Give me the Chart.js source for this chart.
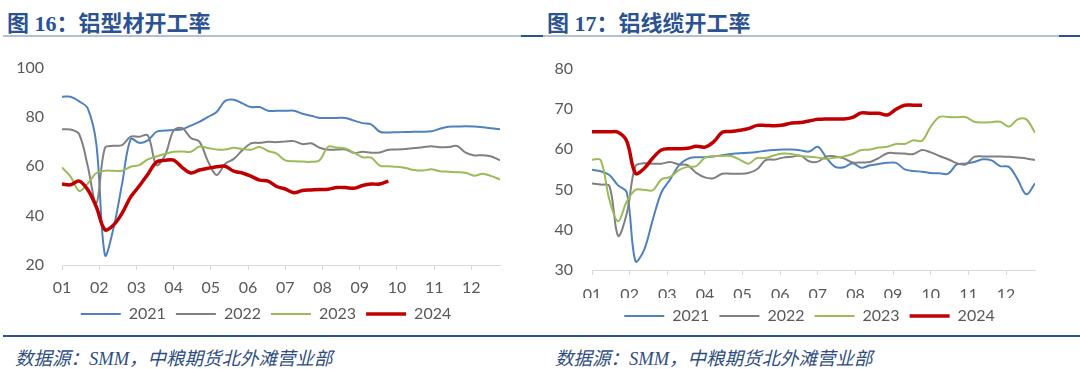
<!DOCTYPE html>
<html>
<head>
<meta charset="utf-8">
<script src="https://cdn.jsdelivr.net/npm/chart.js@4.4.1/dist/chart.umd.min.js"></script>
<style>
  body { margin: 0; width: 1080px; height: 369px; background: #fff; position: relative; overflow: hidden; }
  .title { position: absolute; top: 5px; line-height: 24px; font: bold 22px "Liberation Serif", "Noto Sans CJK SC"; color: #2b5291; white-space: nowrap; }
  .rule { position: absolute; height: 2px; }
  .light { background: #b4c0d0; }
  .dark { background: #2b5291; }
  .source { position: absolute; top: 344px; line-height: 20px; font: italic 18.5px "Liberation Serif", "Noto Sans CJK SC"; color: #2f4e80; white-space: nowrap; }
  .chartBox { position: absolute; top: 40px; }
</style>
</head>
<body>
<div class="title" style="left:7px">图 16：铝型材开工率</div>
<div class="title" style="left:547px">图 17：铝线缆开工率</div>
<div class="rule light" style="left:3px;width:518px;top:35px"></div>
<div class="rule dark" style="left:521px;width:22px;top:35px"></div>
<div class="rule light" style="left:543px;width:516px;top:35px"></div>
<div class="rule dark" style="left:1059px;width:21px;top:35px"></div>

<div class="chartBox" style="left:0px"><canvas id="profileChart" width="540" height="295"></canvas></div>
<div class="chartBox" style="left:540px"><canvas id="cableChart" width="540" height="297"></canvas></div>

<div class="rule dark" style="left:3px;width:1077px;top:335px"></div>
<div class="source" style="left:15px">数据源：SMM，中粮期货北外滩营业部</div>
<div class="source" style="left:555px">数据源：SMM，中粮期货北外滩营业部</div>

<script>
// Weekly operating rates (52 weeks per year)
var monthLabels = ['01', '02', '03', '04', '05', '06', '07', '08', '09', '10', '11', '12'];
var yearLabels = ['2021', '2022', '2023', '2024'];

// Aluminium profile operating rate (%)
var profile2021 = [88.2, 88.2, 86.3, 83.5, 69, 24, 35, 53, 71, 69.5, 70.5, 74, 74.5, 74.7, 75, 76.5, 78, 80, 82, 86.5, 87, 85.5, 84, 84, 82.5, 82.5, 82.5, 82.5, 81.3, 80.5, 79.6, 79.6, 79.6, 79.6, 78.5, 77.5, 77, 74, 73.7, 73.8, 73.9, 74, 74, 74.2, 75.2, 76, 76.1, 76.2, 76.1, 75.8, 75.4, 75];
var profile2022 = [75, 74.9, 73, 60, 45, 67.5, 68.3, 68.6, 72, 72, 72.5, 60.5, 64.5, 74.5, 75.5, 71.5, 70, 62, 56.5, 61, 63, 66.5, 69.3, 69.5, 69.9, 69.8, 70.1, 70.2, 69, 69.3, 67.5, 66.7, 66.8, 66.8, 65.4, 65.9, 65.5, 65.6, 66.7, 66.8, 67, 67.4, 67.7, 68.1, 67.7, 67.8, 68.2, 65.5, 64.4, 64.5, 64, 62.4];
var profile2023 = [59.5, 55.8, 50, 53, 57.3, 58.2, 58.2, 58.2, 59.8, 60.5, 62.8, 64, 65, 65.9, 66, 65.9, 68, 67.4, 66.8, 66.8, 67.5, 67, 66.7, 67.8, 66.2, 65.1, 62.4, 62, 61.9, 61.8, 62.5, 67.9, 67.6, 67.2, 65.5, 63.7, 63.5, 60.3, 60, 59.8, 59.3, 58.5, 58.3, 58.8, 58, 57.8, 57.6, 57.4, 56.2, 57, 56, 54.7];
var profile2024 = [52.8, 52.5, 54, 50.5, 43.5, 34.3, 36.2, 41, 47.6, 52, 56.8, 61.7, 62.4, 62.5, 59.5, 57.3, 58.5, 59.2, 59.8, 60, 58, 57.3, 56, 54.4, 54, 51.8, 50.8, 49.3, 50.2, 50.4, 50.6, 50.7, 51.4, 51.4, 51.1, 52.2, 52.8, 52.8, 54];

// Aluminium cable operating rate (%)
var cable2021 = [54.9, 54.5, 53.6, 51, 49.3, 32.2, 35, 42.5, 49.3, 52.5, 56, 57.6, 58, 58, 58.2, 58.5, 58.8, 59, 59.1, 59.3, 59.6, 59.8, 59.9, 59.9, 59.7, 59.4, 60.6, 57.8, 55.6, 55.5, 56.5, 55.4, 56, 56.3, 56.6, 56.6, 55, 54.6, 54.4, 54.1, 54, 53.9, 56.2, 56.4, 56.8, 57.5, 57.2, 55.8, 55.6, 52.5, 48.8, 51.5];
var cable2022 = [51.5, 51.2, 50.9, 38.5, 44, 55.8, 56.5, 56.4, 56.4, 56.8, 56.2, 56, 54.1, 53, 52.8, 53.9, 53.9, 53.9, 54.1, 55, 57.3, 57.4, 57.9, 58.1, 58.4, 57, 56.9, 58.2, 58.2, 57.7, 56.7, 56.7, 56.8, 57.8, 59, 59, 58.9, 58.8, 59.8, 59.2, 58.3, 57.5, 56.5, 56.2, 58.1, 58.2, 58.2, 58.2, 58.1, 57.9, 57.7, 57.3];
var cable2023 = [57.4, 57.3, 47.5, 42.1, 47, 49.9, 49.9, 49.8, 52.5, 53.1, 54.8, 55.6, 55.8, 57.9, 58.3, 58.3, 58.3, 57.4, 56.4, 57.8, 57.8, 58.5, 58.9, 58.8, 58.3, 58.1, 57.9, 57.6, 57.9, 58.2, 58.8, 59.8, 59.9, 60.4, 60.6, 61.3, 61.3, 62.2, 62.1, 65.6, 68, 68, 67.9, 68, 66.8, 66.6, 66.7, 66.8, 65.6, 67.4, 67.4, 64.1];
var cable2024 = [64.3, 64.3, 64.3, 64.2, 62, 54, 55.2, 57.8, 59.8, 60.1, 60.1, 60.2, 60.7, 60.5, 61.8, 64.2, 64.4, 64.7, 65.1, 65.9, 65.9, 65.8, 66, 66.5, 66.6, 67, 67.4, 67.5, 67.5, 67.5, 67.9, 69, 68.9, 68.9, 68.5, 69.9, 70.9, 70.9, 70.9];

var yearColors = ['#4f81bd', '#808080', '#9bbb59', '#c00000'];
var yearWidths = [2, 2, 2, 3.5];
var labelFont = { family: 'Lato', size: 16 };

/**
 * Turn a list of weekly values into points on a month axis (week i -> i*12/52)
 */
function toPoints(values) {
  return values.map(function (v, i) {
    return { x: i * 12 / 52, y: v };
  });
}

/**
 * Build one of the two operating rate charts
 */
function createRateChart(canvasId, series, yAxis, box) {
  var ctx = document.getElementById(canvasId).getContext('2d');
  return new Chart(ctx, {
    type: 'line',
    data: {
      datasets: series.map(function (values, i) {
        return {
          label: yearLabels[i],
          data: toPoints(values),
          borderColor: yearColors[i],
          backgroundColor: yearColors[i],
          borderWidth: yearWidths[i],
          pointRadius: 0,
          tension: 0.35,
          order: series.length - i, // later years drawn on top
        };
      }),
    },
    plugins: [{
      // move the legend sideways so it sits under the plot like the original
      id: 'legendShift',
      afterLayout: function (chart) {
        chart.legend.left += box.legendShift;
        chart.legend.right += box.legendShift;
      },
    }],
    options: {
      responsive: false,
      animation: false,
      layout: { padding: box.padding },
      plugins: {
        tooltip: { enabled: false },
        legend: {
          position: 'bottom',
          labels: {
            usePointStyle: true,
            pointStyle: 'line',
            pointStyleWidth: 40,
            color: '#595959',
            font: labelFont,
            padding: 10,
            sort: function (a, b) {
              return a.datasetIndex - b.datasetIndex;
            },
          },
        },
      },
      scales: {
        x: {
          type: 'linear',
          min: 0,
          max: 51 * 12 / 52,
          afterBuildTicks: function (scale) {
            scale.ticks = monthLabels.map(function (m, i) {
              return { value: i };
            });
          },
          afterFit: function (scale) {
            scale.height = box.xHeight;
          },
          ticks: {
            color: '#595959',
            font: labelFont,
            padding: box.xPad,
            maxRotation: 0,
            autoSkip: false,
            callback: function (value) {
              return monthLabels[value];
            },
          },
          grid: { display: true, drawOnChartArea: false, drawTicks: true, tickLength: 5, color: '#d9d9d9' },
          border: { display: true, color: '#d9d9d9', width: 1 },
        },
        y: {
          min: yAxis.min,
          max: yAxis.max,
          afterFit: function (scale) {
            scale.width = box.yWidth;
          },
          ticks: { stepSize: yAxis.step, color: '#595959', font: labelFont, padding: box.yPad },
          grid: { display: false, drawTicks: false },
          border: { display: false },
        },
      },
    },
  });
}

createRateChart('profileChart', [profile2021, profile2022, profile2023, profile2024],
  { min: 20, max: 100, step: 20 },
  { padding: { left: 0, right: 40, top: 18, bottom: 3 }, yWidth: 62, yPad: 18, xHeight: 31, xPad: 8, legendShift: 16 });

createRateChart('cableChart', [cable2021, cable2022, cable2023, cable2024],
  { min: 30, max: 80, step: 10 },
  { padding: { left: 0, right: 45, top: 17, bottom: 3 }, yWidth: 52, yPad: 19, xHeight: 28, xPad: 10, legendShift: 22 });
</script>
</body>
</html>
